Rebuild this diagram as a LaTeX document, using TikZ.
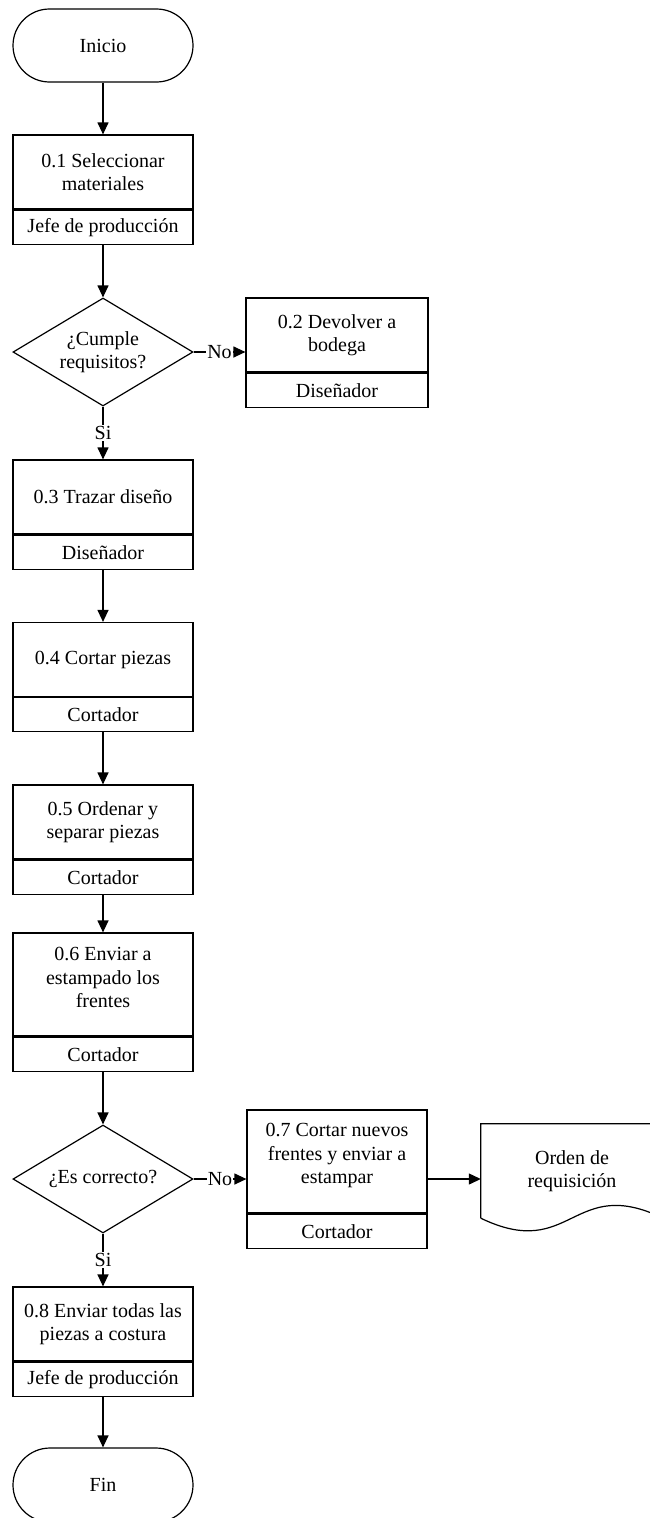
\documentclass[tikz,border=0pt]{standalone}
\usepackage{fontspec}
\setmainfont{Liberation Serif}
\usetikzlibrary{shapes.geometric, shapes.misc, arrows.meta}

\begin{document}
\begin{tikzpicture}[x=1pt, y=-1pt,
  every node/.style={font=\fontsize{20}{23.5}\selectfont},
  base/.style={draw, line width=1.2pt, align=center, inner sep=0pt},
  terminal/.style={base, rounded rectangle, minimum width=180pt, minimum height=73pt},
  task/.style={base, rectangle, minimum width=180pt, minimum height=74pt},
  tasktall/.style={task, minimum height=103pt},
  role/.style={base, rectangle, minimum width=180pt, minimum height=34pt, anchor=north},
  decision/.style={base, diamond, aspect=1.667, minimum width=180pt, minimum height=108pt},
  plain/.style={align=center, inner sep=0pt},
  flow/.style={line width=1.2pt, -{Triangle[length=12pt, width=11pt]}},
  answer/.style={midway, fill=white, inner sep=1pt}
]
\useasboundingbox (0,0) rectangle (650,1518);
\clip (0,0) rectangle (650,1518);

% main column
\node[terminal] (ini) at (103,45.5) {Inicio};

\node[task] (p1u) at (103,172) {0.1 Seleccionar\\materiales};
\node[role] (p1r) at (p1u.south) {Jefe de producción};

\node[decision] (d1) at (103,352) {¿Cumple\\requisitos?};

\node[task, minimum width=182pt] (p2u) at (337,335) {0.2 Devolver a\\bodega};
\node[role, minimum width=182pt] (p2r) at (p2u.south) {Diseñador};

\node[task] (p3u) at (103,497) {0.3 Trazar diseño};
\node[role] (p3r) at (p3u.south) {Diseñador};

\node[task] (p4u) at (103,659.5) {0.4 Cortar piezas};
\node[role] (p4r) at (p4u.south) {Cortador};

\node[task] (p5u) at (103,822) {0.5 Ordenar y\\separar piezas};
\node[role] (p5r) at (p5u.south) {Cortador};

\node[tasktall] (p6u) at (103,984.5) {};
\node[plain] (p6t) at ([yshift=7pt]p6u.center) {0.6 Enviar a\\estampado los\\frentes};
\node[role] (p6r) at (p6u.south) {Cortador};

\node[decision] (d2) at (103,1179) {¿Es correcto?};

\node[tasktall] (p7u) at (337,1161.5) {};
\node[plain] (p7t) at ([yshift=6pt]p7u.center) {0.7 Cortar nuevos\\frentes y enviar a\\estampar};
\node[role] (p7r) at (p7u.south) {Cortador};

% document symbol
\node[plain, minimum width=182pt, minimum height=94pt] (doc) at (572,1171) {Orden de\\requisición};
\draw[line width=1.2pt] (doc.south west) -- (doc.north west) -- (doc.north east) -- (doc.south east)
  .. controls (572,1174) and (572,1262) .. (doc.south west);

\node[task] (p8u) at (103,1324) {0.8 Enviar todas las\\piezas a costura};
\node[role] (p8r) at (p8u.south) {Jefe de producción};

\node[terminal, minimum height=74pt] (fin) at (103,1485) {Fin};

% connectors
\draw[flow] (ini.south) -- (p1u.north);
\draw[flow] (p1r.south) -- (d1.north);
\draw[flow] (d1.east) -- node[answer] {No} (d1.east -| p2u.west);
\draw[flow] (d1.south) -- node[answer] {Si} (p3u.north);
\draw[flow] (p3r.south) -- (p4u.north);
\draw[flow] (p4r.south) -- (p5u.north);
\draw[flow] (p5r.south) -- (p6u.north);
\draw[flow] (p6r.south) -- (d2.north);
\draw[flow] (d2.east) -- node[answer] {No} (d2.east -| p7u.west);
\draw[flow] (d2.east -| p7u.east) -- (d2.east -| doc.west);
\draw[flow] (d2.south) -- node[answer] {Si} (p8u.north);
\draw[flow] (p8r.south) -- (fin.north);
\end{tikzpicture}
\end{document}
